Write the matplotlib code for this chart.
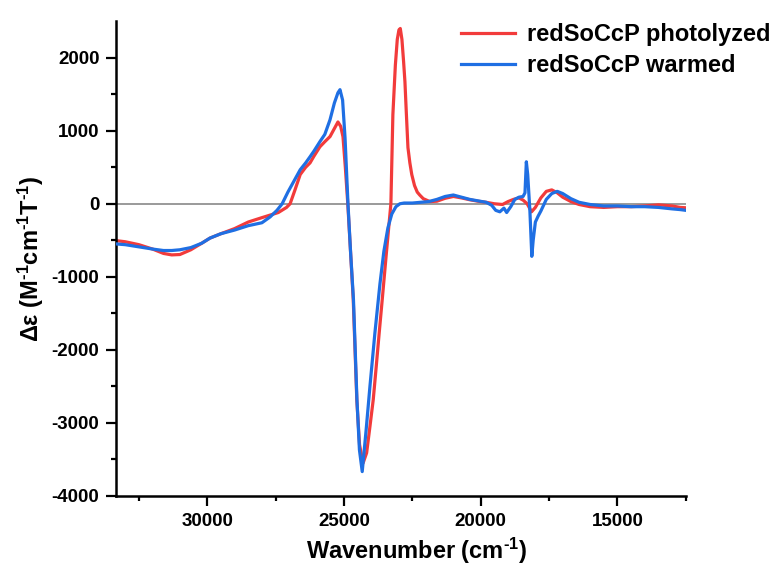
import matplotlib
matplotlib.use("Agg")
import matplotlib.pyplot as plt

plt.rcParams["font.family"] = ["Liberation Sans", "DejaVu Sans"]
plt.rcParams["font.weight"] = "bold"
plt.rcParams["axes.unicode_minus"] = False
plt.rcParams["mathtext.fontset"] = "custom"
plt.rcParams["mathtext.rm"] = "Liberation Sans:bold"
plt.rcParams["mathtext.bf"] = "Liberation Sans:bold"
plt.rcParams["mathtext.default"] = "bf"

# MCD difference spectra (wavenumber in cm^-1, delta-epsilon in M^-1 cm^-1 T^-1)
wn_photolyzed = [33330, 33000, 32500, 32000, 31600, 31300, 31000, 30600, 30200, 29900,
                 29500, 29000, 28500, 28000, 27700, 27400, 27100, 26970, 26800, 26600,
                 26400, 26240, 26100, 25880, 25700, 25510, 25350, 25220, 25120, 25036,
                 24950, 24860, 24760, 24660, 24530, 24430, 24300, 24171, 24050, 23930,
                 23820, 23711, 23601, 23450, 23284, 23211, 23120, 23050, 22990,
                 22940, 22880, 22820, 22770, 22720, 22660, 22590, 22520, 22420, 22320,
                 22230, 22100, 21860, 21600, 21300, 21000, 20700, 20400, 20100, 19800,
                 19500, 19200, 19000, 18800, 18600, 18450, 18300, 18140, 18000, 17800,
                 17600, 17400, 17200, 17000, 16700, 16400, 16000, 15500, 15000, 14500,
                 14000, 13500, 13000, 12700, 12500]
de_photolyzed = [-505, -520, -560, -620, -680, -700, -695, -630, -540, -470,
                 -410, -340, -250, -190, -155, -120, -50, 0, 180, 400,
                 500, 560, 650, 780, 850, 920, 1030, 1120, 1060, 918,
                 500, 0, -650, -1315, -2685, -3300, -3550, -3411, -3050, -2685,
                 -2230, -1767, -1315, -680, 0, 1220, 1900, 2250, 2380,
                 2400, 2250, 1950, 1670, 1250, 770, 560, 400, 250, 160,
                 120, 70, 30, 35, 75, 100, 80, 55, 35, 20,
                 0, -10, 30, 60, 80, 50, 0, -110, -50, 80,
                 170, 190, 150, 90, 30, -10, -40, -50, -40, -40,
                 -30, -15, -30, -50, -55]

wn_warmed = [33330, 33000, 32500, 32000, 31600, 31300, 31000, 30600, 30200, 29900,
             29500, 29000, 28500, 28000, 27700, 27450, 27260, 27050, 26800, 26600,
             26400, 26240, 26100, 25880, 25700, 25510, 25350, 25220, 25145, 25050,
             24960, 24853, 24760, 24652, 24525, 24434, 24332, 24190, 24050, 23868,
             23685, 23540, 23393, 23250, 23100, 22955, 22800, 22500, 22200,
             21900, 21600, 21300, 21000, 20700, 20400, 20100, 19800, 19600, 19450,
             19300, 19150, 19050, 18900, 18750, 18600, 18450, 18380, 18330, 18280,
             18200, 18130, 18080, 18000, 17900, 17800, 17600, 17400, 17200, 17000,
             16700, 16400, 16000, 15500, 15000, 14500, 14000, 13500, 13000, 12700,
             12500]
de_warmed = [-550, -560, -590, -620, -640, -640, -630, -600, -540, -470,
             -410, -360, -300, -260, -180, -90, 0, 160, 330, 466,
             560, 644, 720, 850, 950, 1150, 1380, 1520, 1562, 1420,
             900, 0, -650, -1315, -2685, -3370, -3667, -3100, -2500, -1767,
             -1100, -650, -330, -140, -40, 0, 10, 10, 20,
             30, 60, 100, 120, 90, 60, 40, 20, -20, -90,
             -110, -60, -120, -40, 60, 90, 100, 150, 575, 400,
             -100, -720, -500, -250, -170, -100, 60, 140, 170, 140,
             70, 20, -10, -30, -30, -40, -40, -50, -70, -80,
             -90]

red = "#f23b3b"
blue = "#1f6fe3"

fig = plt.figure(figsize=(7.74, 5.72), dpi=100)
ax = fig.add_axes([0.150, 0.133, 0.736, 0.830])

ax.axhline(0, color="#7f7f7f", lw=1.1, zorder=1)
ax.plot(wn_photolyzed, de_photolyzed, color=red, lw=2.3, label="redSoCcP photolyzed", zorder=2)
ax.plot(wn_warmed, de_warmed, color=blue, lw=2.3, label="redSoCcP warmed", zorder=3)

ax.set_xlim(33333, 12500)
ax.set_ylim(-4000, 2500)
ax.set_xticks([30000, 25000, 20000, 15000])
ax.set_xticks([32500, 27500, 22500, 17500, 12500], minor=True)
ax.set_yticks([-4000, -3000, -2000, -1000, 0, 1000, 2000])
ax.set_yticks([-3500, -2500, -1500, -500, 500, 1500], minor=True)

for side in ("top", "right"):
    ax.spines[side].set_visible(False)
for side in ("left", "bottom"):
    ax.spines[side].set_linewidth(1.8)

ax.tick_params(which="major", direction="out", length=7, width=1.6, labelsize=13.5, pad=5)
ax.tick_params(which="minor", direction="out", length=3.8, width=1.6)
for lbl in ax.get_xticklabels() + ax.get_yticklabels():
    lbl.set_fontweight("bold")

ax.set_xlabel(r"Wavenumber (cm$^{\text{-1}}$)", fontsize=17, fontweight="bold", labelpad=6)
ax.xaxis.set_label_coords(0.528, -0.085)
ax.set_ylabel(r"Δε (M$^{\text{-1}}$cm$^{\text{-1}}$T$^{\text{-1}}$)", fontsize=17,
              fontweight="bold", labelpad=4)

leg = ax.legend(loc="upper right", bbox_to_anchor=(1.165, 1.015), frameon=False,
                prop={"size": 17, "weight": "bold"}, handlelength=2.3,
                handletextpad=0.5, labelspacing=0.32, borderaxespad=0)

fig.savefig("out.png", dpi=100)
